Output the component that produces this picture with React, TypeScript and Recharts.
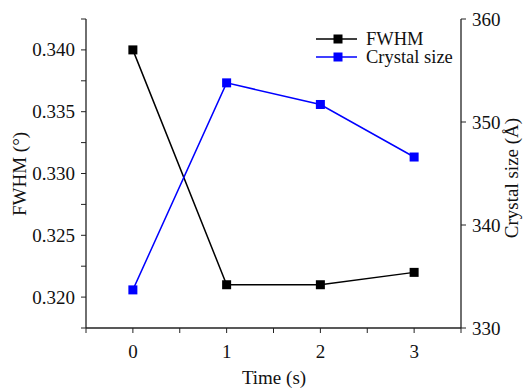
import React from 'react';
import { ComposedChart, Line, XAxis, YAxis } from 'recharts';

const times = [0, 1, 2, 3];
const fwhm = [0.340, 0.321, 0.321, 0.322];
const crystalSize = [333.7, 353.8, 351.7, 346.6];

const xTicks = [-0.5, 0, 0.5, 1, 1.5, 2, 2.5, 3, 3.5];
const leftTicks = [0.3175, 0.32, 0.3225, 0.325, 0.3275, 0.33, 0.3325, 0.335, 0.3375, 0.34, 0.3425];
const rightTicks = [330, 340, 350, 360];

const seriesNames = ['FWHM', 'Crystal size'];
const seriesColors = ['#000000', '#0000ff'];
const axisTitles = { x: 'Time (s)', left: 'FWHM (°)', right: 'Crystal size (Å)' };

const data = times.map((t, i) => ({ t, fwhm: fwhm[i], size: crystalSize[i] }));

const FONT = '"Liberation Serif", "Times New Roman", serif';
const AXIS = '#222';
const FS = 19;

const SquareDot = (color: string) => (props: any) => {
  const { cx, cy, index } = props;
  if (cx == null || cy == null) return <g key={index} />;
  const s = 9;
  return <rect key={index} x={cx - s / 2} y={cy - s / 2} width={s} height={s} fill={color} />;
};

const fmtX = (v: number) => (Number.isInteger(v) ? String(v) : '');
const fmtLeft = (v: number) => (Math.abs(v * 200 - Math.round(v * 200)) < 1e-6 ? v.toFixed(3) : '');
const fmtRight = (v: number) => String(v);

const XTick = (props: any) => {
  const { x, y, payload } = props;
  const s = fmtX(payload.value);
  if (!s) return <g />;
  return <text x={x} y={y + 9} textAnchor="middle" dominantBaseline="hanging" fontFamily={FONT} fontSize={FS} fill="#111">{s}</text>;
};
const LeftTick = (props: any) => {
  const { x, y, payload } = props;
  const s = fmtLeft(payload.value);
  if (!s) return <g />;
  return <text x={x - 4} y={y} textAnchor="end" dominantBaseline="central" fontFamily={FONT} fontSize={FS} fill="#111">{s}</text>;
};
const RightTick = (props: any) => {
  const { x, y, payload } = props;
  return <text x={x + 4} y={y} textAnchor="start" dominantBaseline="central" fontFamily={FONT} fontSize={FS} fill="#111">{fmtRight(payload.value)}</text>;
};

const Overlay = () => (
  <svg width={524} height={388} style={{ position: 'absolute', left: 0, top: 0, pointerEvents: 'none' }}>
    <text x={19} y={174} transform="rotate(-90, 19, 174)" textAnchor="middle" dominantBaseline="central"
      fontFamily={FONT} fontSize={FS} fill="#111">{axisTitles.left}</text>
    <text x={511} y={178} transform="rotate(-90, 511, 178)" textAnchor="middle" dominantBaseline="central"
      fontFamily={FONT} fontSize={FS} fill="#111">{axisTitles.right}</text>
    <text x={274} y={377} textAnchor="middle" dominantBaseline="central"
      fontFamily={FONT} fontSize={FS} fill="#111">{axisTitles.x}</text>
    {seriesNames.map((name, i) => {
      const y = 39 + i * 18;
      const c = seriesColors[i];
      return (
        <g key={name}>
          <line x1={316} x2={357} y1={y} y2={y} stroke={c} strokeWidth={1.5} />
          <rect x={338 - 4.5} y={y - 4.5} width={9} height={9} fill={c} />
          <text x={366} y={y} dominantBaseline="central" fontFamily={FONT} fontSize={18.5} fill="#111">{name}</text>
        </g>
      );
    })}
  </svg>
);

export default function App() {
  return (
    <div style={{ position: 'absolute', left: 0, top: 0, width: 524, height: 388, background: '#fff', fontFamily: FONT }}>
      <ComposedChart width={524} height={388} data={data} margin={{ top: 19, right: 0, bottom: 0, left: 0 }}>
        <XAxis xAxisId="top" orientation="top" type="number" dataKey="t" domain={[-0.5, 3.5]} height={0}
          tick={false} tickLine={false} axisLine={{ stroke: AXIS, strokeWidth: 1.3 }} />
        <XAxis xAxisId="x" type="number" dataKey="t" domain={[-0.5, 3.5]} ticks={xTicks} interval={0}
          allowDataOverflow height={60} tickSize={5} tick={<XTick />}
          axisLine={{ stroke: AXIS, strokeWidth: 1.3 }} tickLine={{ stroke: AXIS }} />
        <YAxis yAxisId="left" orientation="left" type="number" domain={[0.3175, 0.3425]} ticks={leftTicks}
          interval={0} allowDataOverflow width={86} tickSize={5} tick={<LeftTick />}
          axisLine={{ stroke: AXIS, strokeWidth: 1.3 }} tickLine={{ stroke: AXIS }} />
        <YAxis yAxisId="right" orientation="right" type="number" domain={[330, 360]} ticks={rightTicks}
          interval={0} allowDataOverflow width={63} tickSize={5} tick={<RightTick />}
          axisLine={{ stroke: AXIS, strokeWidth: 1.3 }} tickLine={{ stroke: AXIS }} />
        <Line xAxisId="x" yAxisId="left" dataKey="fwhm" name={seriesNames[0]} stroke={seriesColors[0]} strokeWidth={1.5}
          dot={SquareDot(seriesColors[0])} activeDot={false} isAnimationActive={false} />
        <Line xAxisId="x" yAxisId="right" dataKey="size" name={seriesNames[1]} stroke={seriesColors[1]} strokeWidth={1.5}
          dot={SquareDot(seriesColors[1])} activeDot={false} isAnimationActive={false} />
      </ComposedChart>
      <Overlay />
    </div>
  );
}
